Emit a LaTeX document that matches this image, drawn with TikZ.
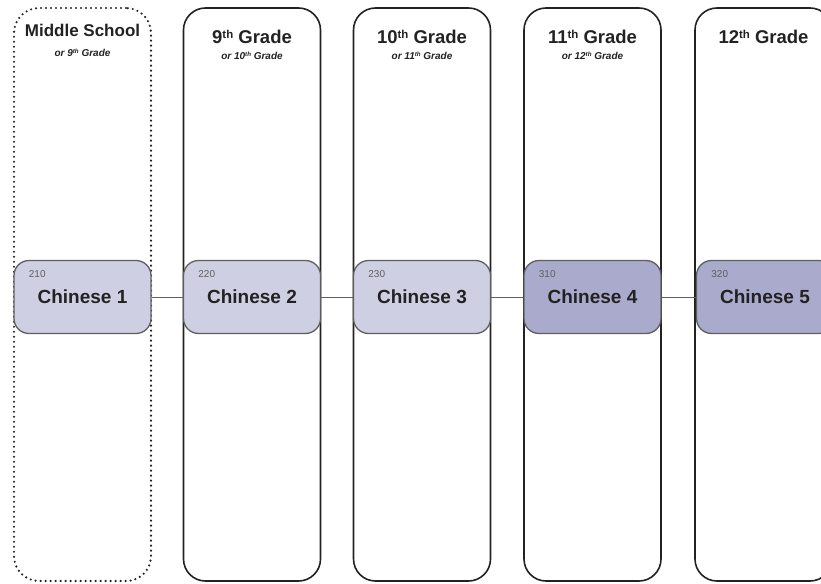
\documentclass[tikz,border=0pt]{standalone}
\usepackage{fontspec}
\setmainfont{Liberation Sans}
\usepackage{tikz}
\usetikzlibrary{calc}
\usetikzlibrary{shapes}
\definecolor{lightlav}{RGB}{207,207,227}
\definecolor{darklav}{RGB}{170,170,204}
\definecolor{boxline}{RGB}{95,95,95}
\definecolor{inktext}{RGB}{34,34,34}
\newcommand{\ordsup}[1]{\raisebox{0.27em}{\scalebox{0.62}{#1}}}

\begin{document}
\begin{tikzpicture}[x=1pt, y=-1pt,
 gradecol/.style={draw=inktext, line width=1.6pt, rounded corners=22pt,
  minimum width=137pt, minimum height=573pt, inner sep=0pt},
 mscol/.style={gradecol, draw=inktext, line width=2.4pt, rounded corners=25pt,
  dash pattern=on 0pt off 5pt, line cap=round},
 gradehead/.style={anchor=base, text=inktext, font=\fontsize{18.5}{20}\selectfont\bfseries},
 gradesub/.style={anchor=base, text=inktext, font=\fontsize{10}{12}\selectfont\bfseries\itshape},
 course/.style={draw=boxline, line width=1.3pt, rounded corners=15pt, fill=lightlav,
  minimum width=137pt, minimum height=73pt, inner sep=0pt, text=inktext,
  font=\fontsize{19}{21}\selectfont\bfseries},
 upper/.style={course, fill=darklav},
 coursenum/.style={anchor=base west, text=boxline, font=\fontsize{10}{12}\selectfont},
 link/.style={draw=boxline, line width=1pt}]
 \useasboundingbox (0,0) rectangle (821,583);
 \clip (0,0) rectangle (821,583);

 % grade columns
 \node[mscol] (col1) at (82.5,294.5) {};
 \node[gradecol] (col2) at (252,294.5) {};
 \node[gradecol] (col3) at (422,294.5) {};
 \node[gradecol] (col4) at (592.5,294.5) {};
 \node[gradecol] (col5) at (763.5,294.5) {};

 \node[gradehead, font=\fontsize{17}{19}\selectfont\bfseries] (head1) at ($(col1.north)+(0,30)$) {Middle School};
 \node[gradesub] (sub1) at ($(col1.north)+(0,49.5)$) {or 9\ordsup{th} Grade};
 \node[gradehead] (head2) at ($(col2.north)+(0,36)$) {9\ordsup{th} Grade};
 \node[gradesub] (sub2) at ($(col2.north)+(0,52.5)$) {or 10\ordsup{th} Grade};
 \node[gradehead] (head3) at ($(col3.north)+(0,36)$) {10\ordsup{th} Grade};
 \node[gradesub] (sub3) at ($(col3.north)+(0,52.5)$) {or 11\ordsup{th} Grade};
 \node[gradehead] (head4) at ($(col4.north)+(0,36)$) {11\ordsup{th} Grade};
 \node[gradesub] (sub4) at ($(col4.north)+(0,52.5)$) {or 12\ordsup{th} Grade};
 \node[gradehead] (head5) at ($(col5.north)+(0,36)$) {12\ordsup{th} Grade};

 % courses
 \node[course] (c1) at (82.5,297) {Chinese 1};
 \node[course] (c2) at (252,297) {Chinese 2};
 \node[course] (c3) at (422,297) {Chinese 3};
 \node[upper] (c4) at (592.5,297) {Chinese 4};
 \node[upper] (c5) at (765,297) {Chinese 5};

 \node[coursenum] (n1) at ($(c1.north west)+(12,18)$) {210};
 \node[coursenum] (n2) at ($(c2.north west)+(12,18)$) {220};
 \node[coursenum] (n3) at ($(c3.north west)+(12,18)$) {230};
 \node[coursenum] (n4) at ($(c4.north west)+(12,18)$) {310};
 \node[coursenum] (n5) at ($(c5.north west)+(12,18)$) {320};

 \draw[link] (c1) -- (c2);
 \draw[link] (c2) -- (c3);
 \draw[link] (c3) -- (c4);
 \draw[link] (c4) -- (c5);
\end{tikzpicture}
\end{document}
